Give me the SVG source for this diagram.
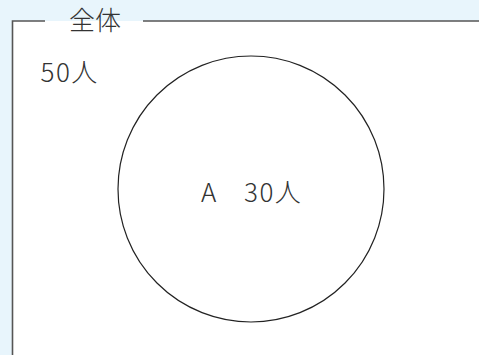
<svg xmlns="http://www.w3.org/2000/svg" width="479" height="355" viewBox="0 0 479 355">
<style>
.t{font-family:"Noto Sans CJK JP","Noto Sans",sans-serif;fill:#333;font-size:26px;font-weight:300;letter-spacing:1.5px}
.frame{fill:none;stroke:#555;stroke-width:1.6}
</style>
<rect x="0" y="0" width="479" height="355" fill="#e8f5fc"/>
<g id="universe">
<rect x="12" y="21" width="480" height="340" fill="#fff"/>
<path class="frame" d="M45 21H12.5V360M143 21H480"/>
<text class="t" x="69" y="30" style="letter-spacing:0">全体</text>
<text class="t" x="40.5" y="82">50人</text>
</g>
<g id="setA">
<circle cx="251" cy="189" r="133" fill="none" stroke="#222" stroke-width="1.2"/>
<text class="t" x="201" y="202">A</text>
<text class="t" x="244" y="202">30人</text>
</g>
<g id="connectors"/>
</svg>
